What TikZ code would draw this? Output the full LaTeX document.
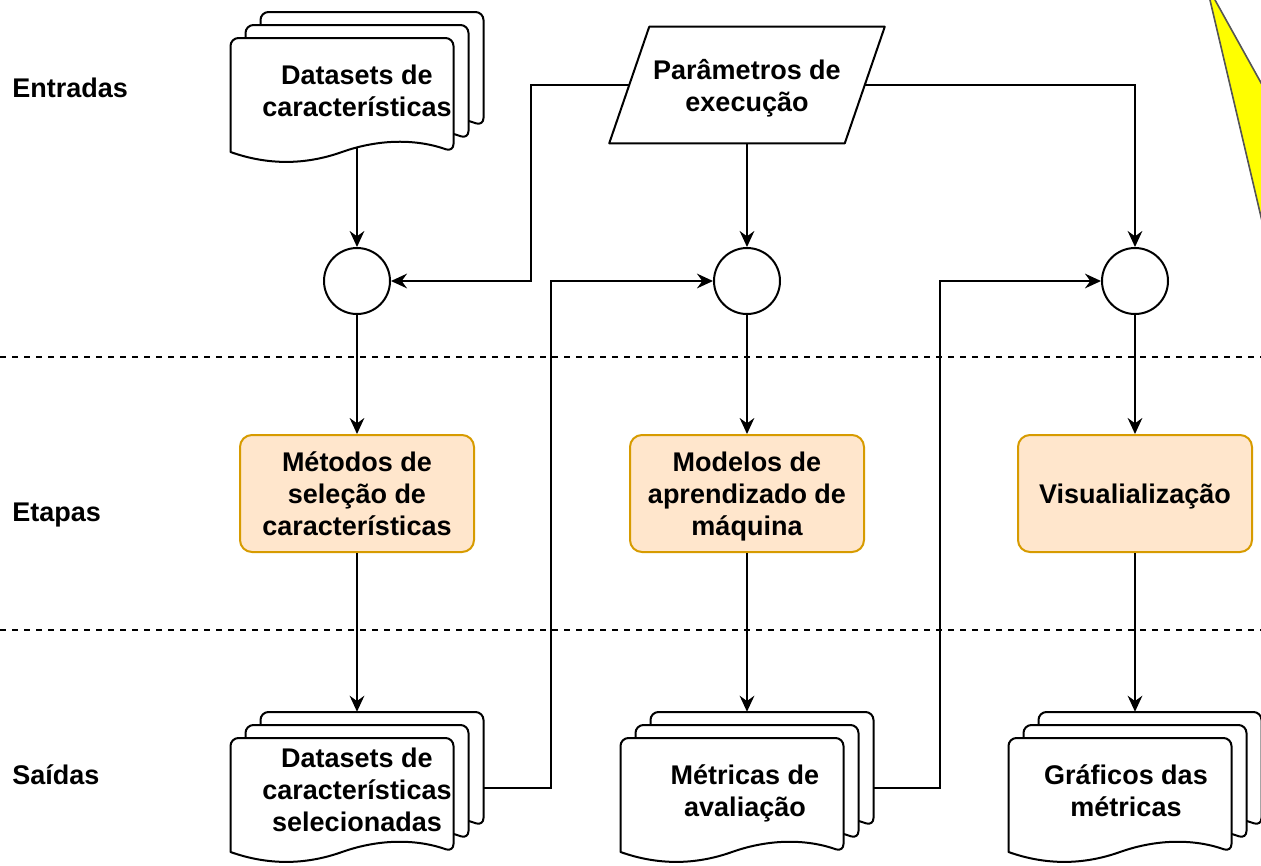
\documentclass[tikz,border=0pt]{standalone}
\usepackage{fontspec}
\setmainfont{Liberation Sans}
\usetikzlibrary{arrows.meta,calc}

\definecolor{stagefill}{HTML}{FFE6CC}
\definecolor{stageline}{HTML}{D79B00}
\definecolor{notefill}{HTML}{FFFF00}
\definecolor{noteline}{HTML}{555555}

% a line whose descenders do not count for vertical centring
\newcommand{\nodepth}[1]{\raisebox{0pt}[\height][0pt]{#1}}

% one sheet of a document stack: top-left corner #1,#2 (px), wavy bottom edge
\newcommand{\doclayer}[2]{%
  \filldraw[fill=white, draw=black, line width=1.5pt, line join=round]
    (#1,#2+114) [rounded corners=6pt] -- (#1,#2) -- (#1+223,#2) -- (#1+223,#2+114) [sharp corners]
    .. controls (#1+185.83,#2+100.8) and (#1+148.67,#2+100.8) .. (#1+111.5,#2+114)
    .. controls (#1+74.33,#2+127.2) and (#1+37.17,#2+127.2) .. (#1,#2+114) -- cycle;
}
% three stacked sheets inside a 253 x 151 px box with top-left corner #1,#2
\newcommand{\docstack}[2]{%
  \doclayer{#1+30}{#2}
  \doclayer{#1+15}{#2+13}
  \doclayer{#1}{#2+26}
}

\begin{document}
\begin{tikzpicture}[x=0.75pt, y=-0.75pt,
  font=\fontsize{20.25pt}{24pt}\selectfont\bfseries,
  every node/.style={align=center},
  wire/.style={line width=1.5pt, draw=black},
  arr/.style={wire, -{Stealth[length=12pt, width=11pt, inset=4pt]}},
  sep/.style={line width=1.3pt, dash pattern=on 4.5pt off 4.5pt},
  stage/.style={draw=stageline, fill=stagefill, line width=1.5pt, rounded corners=9pt,
    minimum width=175.5pt, minimum height=87.75pt, inner sep=0pt},
  junction/.style={circle, draw=black, fill=white, line width=1.5pt, minimum size=49.5pt, inner sep=0pt},
  stackbox/.style={minimum width=189.75pt, minimum height=113.25pt, inner sep=0pt},
  rowlabel/.style={anchor=base west, inner sep=0pt},
  stacktext/.style={inner sep=0pt}]

\useasboundingbox (0,0) rectangle (1261,865);
\fill[white] (0,0) rectangle (1261,865);

% yellow callout sliver at the top right
\begin{scope}
  \clip (0,0) rectangle (1261,865);
  \filldraw[fill=notefill, draw=noteline, line width=1.2pt]
    (1206.3,-15.7) -- (1290,135) -- (1290,340) -- cycle;
\end{scope}

% lane separators
\draw[sep] (0,357) -- (1261,357);
\draw[sep] (0,630) -- (1261,630);

% lane labels
\node[rowlabel] (lin)  at (12,97.5)  {Entradas};
\node[rowlabel] (lmid) at (12,521.5) {Etapas};
\node[rowlabel] (lout) at (12,784.5) {Saídas};

% inputs
\docstack{230.5}{12}
\node[stackbox] (din) at (357,87.5) {};
\node[stacktext] (dintext) at (357,91) {Datasets de\\características};

\node[minimum width=176.25pt, minimum height=87pt, inner sep=0pt] (par) at (747,85) {Parâmetros de\\\nodepth{execução}};
\draw[wire, line join=round]
  ($(par.north west)+(20,0)$) -- ($(par.north east)+(20,0)$) --
  ($(par.south east)+(-20,0)$) -- ($(par.south west)+(-20,0)$) -- cycle;

% junctions
\node[junction] (c1) at (357,281) {};
\node[junction] (c2) at (747,281) {};
\node[junction] (c3) at (1135,281) {};

% stages
\node[stage] (s1) at (357,493.5)  {Métodos de\\seleção de\\características};
\node[stage] (s2) at (747,493.5)  {Modelos de\\aprendizado de\\\nodepth{máquina}};
\node[stage] (s3) at (1135,493.5) {\nodepth{Visualialização}};

% outputs
\docstack{230.5}{712}
\node[stackbox] (dout1) at (357,787.5) {};
\node[stacktext] (dout1text) at (357,790) {Datasets de\\características\\selecionadas};

\docstack{620.5}{712}
\node[stackbox] (dout2) at (747,787.5) {};
\node[stacktext] (dout2text) at (745,791) {Métricas de\\\nodepth{avaliação}};

\docstack{1008.5}{712}
\node[stackbox] (dout3) at (1135,787.5) {};
\node[stacktext] (dout3text) at (1126,791) {Gráficos das\\métricas};

% connectors
\draw[arr] ($(din.south)+(0,-15)$) -- (c1.north);
\draw[arr] (par.west) -- ++(-98,0) |- (c1.east);
\draw[arr] (par.south) -- (c2.north);
\draw[arr] (par.east) -| (c3.north);

\draw[arr] (c1.south) -- (s1.north);
\draw[arr] (c2.south) -- (s2.north);
\draw[arr] (c3.south) -- (s3.north);

\draw[arr] (s1.south) -- (dout1.north);
\draw[arr] (s2.south) -- (dout2.north);
\draw[arr] (s3.south) -- (dout3.north);

\draw[arr] (dout1.east) -- ++(67,0) |- (c2.west);
\draw[arr] (dout2.east) -- ++(66,0) |- (c3.west);

\end{tikzpicture}
\end{document}
